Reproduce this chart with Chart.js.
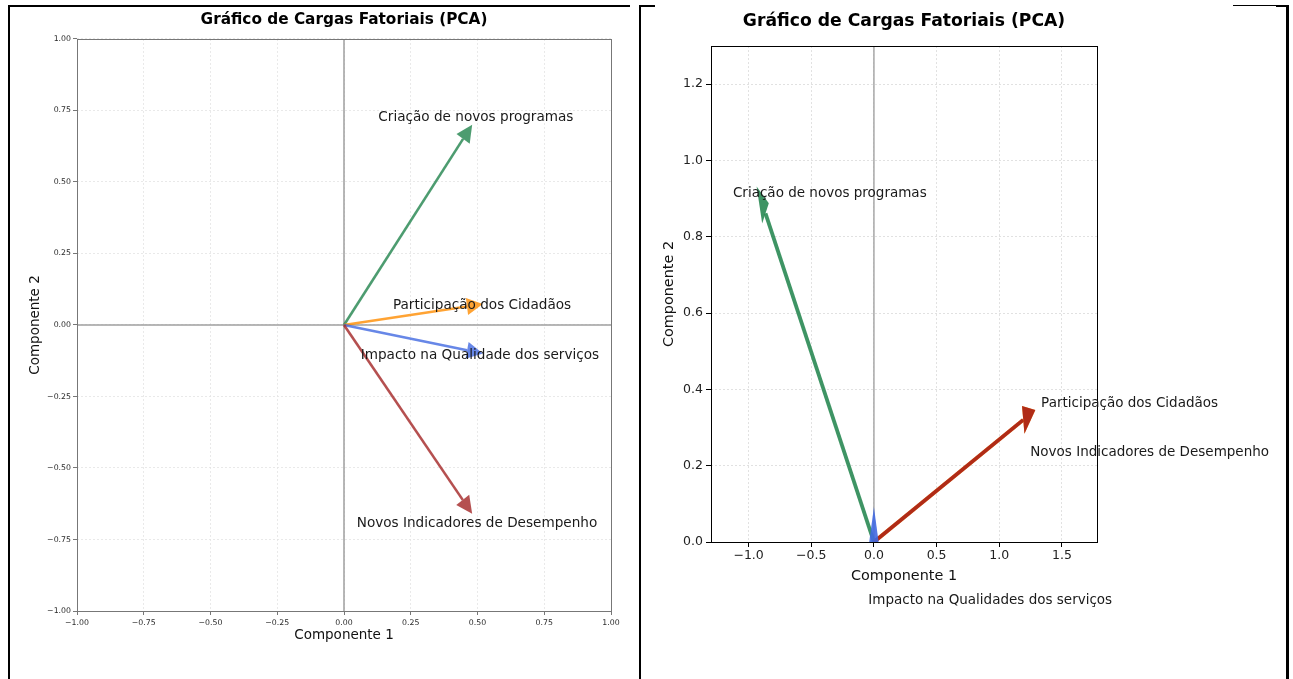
<!DOCTYPE html>
<html>
<head>
<meta charset="utf-8">
<script src="https://cdn.jsdelivr.net/npm/chart.js@4.4.1/dist/chart.umd.min.js"></script>
<style>
  body { margin: 0; background: #fff; width: 1293px; height: 679px; overflow: hidden; position: relative; }
  canvas { position: absolute; top: 0; }
  #left { left: 0; }
  #right { left: 642px; }
  .rule { position: absolute; background: #000; }
</style>
</head>
<body>
<!-- table borders around the two pictures -->
<div class="rule" style="left:8px;top:5px;width:2px;height:674px"></div>
<div class="rule" style="left:8px;top:5px;width:622px;height:2px"></div>
<div class="rule" style="left:639px;top:5px;width:2px;height:674px"></div>
<div class="rule" style="left:639px;top:5px;width:16px;height:2px"></div>
<div class="rule" style="left:1233px;top:5px;width:55px;height:1px"></div>
<div class="rule" style="left:1276px;top:5px;width:13px;height:2px"></div>
<div class="rule" style="left:1286px;top:5px;width:3px;height:674px"></div>

<canvas id="left" width="640" height="679"></canvas>
<canvas id="right" width="644" height="679"></canvas>

<script>
// ---- left picture: loadings on components 1 and 2
const leftVars = ['Criação de novos programas', 'Participação dos Cidadãos', 'Impacto na Qualidade dos serviços', 'Novos Indicadores de Desempenho'];
const leftPc1 = [0.48, 0.52, 0.52, 0.48];
const leftPc2 = [0.70, 0.073, -0.10, -0.66];
const leftTextX = [0.494, 0.517, 0.509, 0.498];
const leftTextY = [0.725, 0.067, -0.107, -0.693];
const leftColors = ['rgba(46,139,87,0.85)', 'rgba(255,140,0,0.8)', 'rgba(65,105,225,0.8)', 'rgba(165,42,42,0.82)'];
const leftTicks = [-1, -0.75, -0.5, -0.25, 0, 0.25, 0.5, 0.75, 1];

// ---- right picture
const rightVars = ['Criação de novos programas', 'Participação dos Cidadãos', 'Novos Indicadores de Desempenho', 'Impacto na Qualidades dos serviços'];
const rightPc1 = [-0.936, 1.288, 1.288, 0.0];
const rightPc2 = [0.932, 0.346, 0.346, 0.092];
const rightTextX = [-0.352, 2.04, 2.2, 0.928];
const rightTextY = [0.914, 0.362, 0.234, -0.154];
const rightColors = ['rgba(46,139,87,0.92)', 'rgba(255,140,0,0.85)', 'rgba(165,28,22,0.88)', 'rgba(65,105,225,0.9)'];
const rightXTicks = [-1, -0.5, 0, 0.5, 1, 1.5];
const rightYTicks = [0, 0.2, 0.4, 0.6, 0.8, 1.0, 1.2];

const FONT = 'DejaVu Sans';

function fmt(v, d) {
    return (v < 0 ? '\u2212' : '') + Math.abs(v).toFixed(d);
}

// shaft stops where the arrow head begins
function shaft(x, y, hl) {
    const len = Math.hypot(x, y);
    const k = len > hl ? (len - hl) / len : 0;
    return [{x: 0, y: 0}, {x: x * k, y: y * k}];
}

function buildDatasets(pc1, pc2, colors, hl, width) {
    return pc1.map(function(x, i) {
        return {
            data: shaft(x, pc2[i], hl),
            order: pc1.length - i, // later series drawn on top
            showLine: true,
            borderColor: colors[i],
            borderWidth: width,
            borderCapStyle: 'butt',
            pointRadius: 0
        };
    });
}

const loadingPlugin = {
    id: 'loadings',
    beforeDatasetsDraw(chart, args, o) {
        const {ctx, chartArea: a, scales: {x, y}} = chart;
        ctx.save();
        ctx.strokeStyle = o.zeroColor;
        ctx.lineWidth = o.zeroWidth;
        ctx.beginPath();
        if (o.hline) {
            const py = y.getPixelForValue(0);
            ctx.moveTo(a.left, py);
            ctx.lineTo(a.right, py);
        }
        const px = x.getPixelForValue(0);
        ctx.moveTo(px, a.top);
        ctx.lineTo(px, a.bottom);
        ctx.stroke();
        ctx.restore();
    },
    afterDatasetsDraw(chart, args, o) {
        const {ctx, chartArea: a, scales: {x, y}} = chart;
        ctx.save();
        // arrow heads
        o.pc1.forEach(function(vx, i) {
            const vy = o.pc2[i];
            const len = Math.hypot(vx, vy);
            const ux = vx / len, uy = vy / len;
            const back = Math.min(o.hl, len);
            const bx = vx - ux * back, by = vy - uy * back;
            const qx = -uy * o.hw / 2, qy = ux * o.hw / 2;
            ctx.beginPath();
            ctx.moveTo(x.getPixelForValue(vx), y.getPixelForValue(vy));
            ctx.lineTo(x.getPixelForValue(bx + qx), y.getPixelForValue(by + qy));
            ctx.lineTo(x.getPixelForValue(bx - qx), y.getPixelForValue(by - qy));
            ctx.closePath();
            ctx.fillStyle = o.colors[i];
            ctx.fill();
        });
        // axes frame
        ctx.strokeStyle = o.frameColor;
        ctx.lineWidth = 1;
        ctx.strokeRect(Math.round(a.left) + 0.5, Math.round(a.top) + 0.5, Math.round(a.right - a.left), Math.round(a.bottom - a.top));
        // variable names
        ctx.font = o.fontSize + 'px "' + FONT + '"';
        ctx.fillStyle = '#1a1a1a';
        ctx.textAlign = 'center';
        ctx.textBaseline = 'middle';
        o.labels.forEach(function(t, i) {
            ctx.fillText(t, x.getPixelForValue(o.textX[i]), y.getPixelForValue(o.textY[i]));
        });
        ctx.restore();
    }
};

function axis(opts) {
    return {
        type: 'linear',
        min: opts.min,
        max: opts.max,
        afterBuildTicks: function(s) { s.ticks = opts.ticks.map(function(v) { return {value: v}; }); },
        afterFit: opts.fit,
        grid: { color: opts.gridColor, lineWidth: 0.8, tickColor: opts.tickColor, tickLength: opts.tickLength, tickWidth: 1, tickBorderDash: [] },
        border: { display: false, dash: [2, 2] },
        ticks: {
            autoSkip: false, maxRotation: 0, padding: opts.pad,
            color: opts.labelColor,
            font: { family: FONT, size: opts.tickSize },
            callback: function(v) { return fmt(v, opts.digits); }
        },
        title: {
            display: true, text: opts.title, color: '#111',
            font: { family: FONT, size: opts.titleSize },
            padding: opts.titlePad
        }
    };
}

new Chart(document.getElementById('left'), {
    type: 'scatter',
    data: { datasets: buildDatasets(leftPc1, leftPc2, leftColors, 0.06, 2.6) },
    options: {
        responsive: false,
        animation: false,
        layout: { padding: { left: 0, right: 29, top: 0, bottom: 0 } },
        scales: {
            x: axis({ min: -1, max: 1, ticks: leftTicks, fit: function(s) { s.height = 68; }, gridColor: '#e4e4e4', tickColor: '#777', tickLength: 4, pad: 3, labelColor: '#2a2a2a', tickSize: 7.8, digits: 2, title: 'Componente 1', titleSize: 13.5, titlePad: { top: 0, bottom: 35 } }),
            y: axis({ min: -1, max: 1, ticks: leftTicks, fit: function(s) { s.width = 77; }, gridColor: '#e4e4e4', tickColor: '#777', tickLength: 4, pad: 2, labelColor: '#2a2a2a', tickSize: 7.8, digits: 2, title: 'Componente 2', titleSize: 13.5, titlePad: { top: 27, bottom: 0 } })
        },
        plugins: {
            legend: { display: false },
            tooltip: { enabled: false },
            title: {
                display: true, fullSize: false, text: 'Gráfico de Cargas Fatoriais (PCA)', color: '#000',
                font: { family: FONT, size: 15.3, weight: 'bold' },
                padding: { top: 10.8, bottom: 9.8 }
            },
            loadings: {
                pc1: leftPc1, pc2: leftPc2, colors: leftColors, labels: leftVars,
                textX: leftTextX, textY: leftTextY, hw: 0.06, hl: 0.06,
                zeroColor: '#a0a0a0', zeroWidth: 1.5, hline: true, frameColor: '#777', fontSize: 13.6
            }
        }
    },
    plugins: [loadingPlugin]
});

new Chart(document.getElementById('right'), {
    type: 'scatter',
    data: { datasets: buildDatasets(rightPc1, rightPc2, rightColors, 0.1, 3.8) },
    options: {
        responsive: false,
        animation: false,
        layout: { padding: { left: 0, right: 189, top: 0, bottom: 0 } },
        scales: {
            x: axis({ min: -1.3, max: 1.78, ticks: rightXTicks, fit: function(s) { s.height = 137; }, gridColor: '#dadada', tickColor: '#000', tickLength: 5, pad: 1, labelColor: '#222', tickSize: 12.5, digits: 1, title: 'Componente 1', titleSize: 14.4, titlePad: { top: 0, bottom: 94.4 } }),
            y: axis({ min: 0, max: 1.3, ticks: rightYTicks, fit: function(s) { s.width = 69; }, gridColor: '#dadada', tickColor: '#000', tickLength: 5, pad: 3, labelColor: '#222', tickSize: 12.5, digits: 1, title: 'Componente 2', titleSize: 14.4, titlePad: { top: 18.4, bottom: 0 } })
        },
        plugins: {
            legend: { display: false },
            tooltip: { enabled: false },
            title: {
                display: true, fullSize: false, text: 'Gráfico de Cargas Fatoriais (PCA)', color: '#000',
                font: { family: FONT, size: 17.2, weight: 'bold' },
                padding: { top: 11.7, bottom: 13.7 }
            },
            loadings: {
                pc1: rightPc1, pc2: rightPc2, colors: rightColors, labels: rightVars,
                textX: rightTextX, textY: rightTextY, hw: 0.075, hl: 0.1,
                zeroColor: '#a8a8a8', zeroWidth: 1.5, hline: false, frameColor: '#000', fontSize: 13.5
            }
        }
    },
    plugins: [loadingPlugin]
});
</script>
</body>
</html>
